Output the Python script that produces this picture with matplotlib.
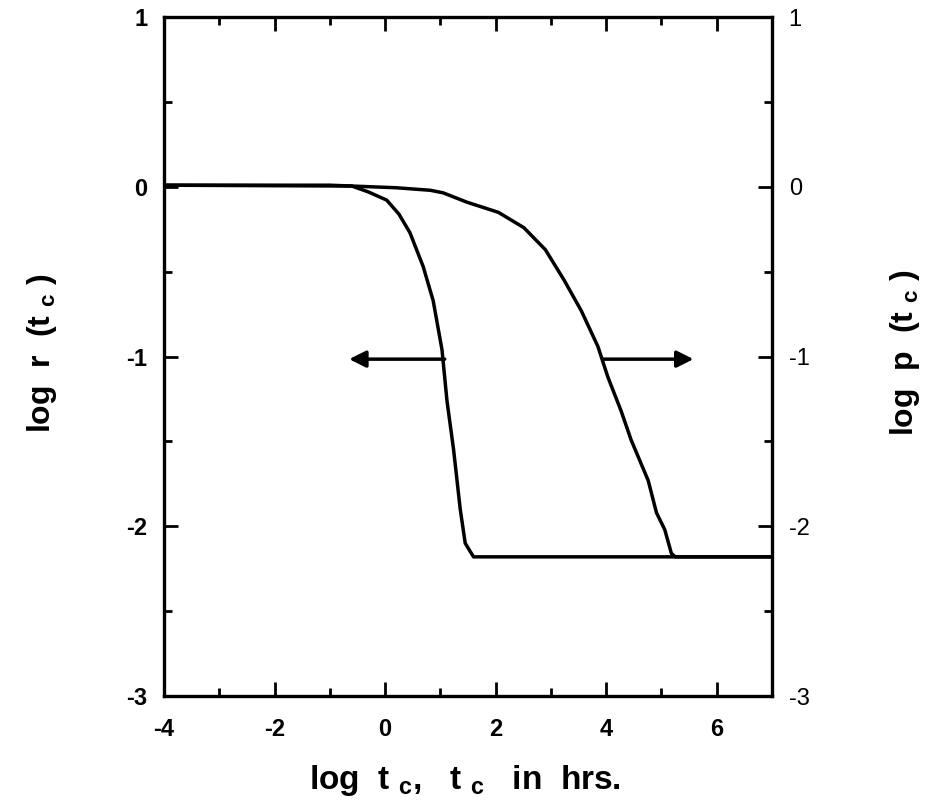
import matplotlib.pyplot as plt
from matplotlib.ticker import MultipleLocator

plt.rcParams['font.family'] = ['Liberation Sans', 'DejaVu Sans']
plt.rcParams['axes.unicode_minus'] = False
plt.rcParams['mathtext.fontset'] = 'custom'
plt.rcParams['mathtext.rm'] = 'Liberation Sans:bold'

# r(t_c): falls off first, read on the left axis
r_x = [-4, -1.0, -0.6, -0.3, 0.03, 0.25, 0.45, 0.69, 0.87, 1.03, 1.12, 1.24, 1.36, 1.45, 1.6, 7]
r_y = [0.01, 0.01, 0.005, -0.03, -0.078, -0.16, -0.27, -0.47, -0.67, -0.96, -1.26, -1.55, -1.90, -2.10, -2.18, -2.18]

# p(t_c): falls off later, read on the right axis
p_x = [-4, -0.6, 0.2, 0.82, 1.05, 1.48, 2.05, 2.51, 2.9, 3.24, 3.55, 3.85, 4.03, 4.27, 4.45, 4.76, 4.91, 5.06, 5.18, 5.25, 7]
p_y = [0.01, 0.005, -0.005, -0.02, -0.035, -0.09, -0.15, -0.24, -0.37, -0.55, -0.73, -0.94, -1.12, -1.32, -1.49, -1.73, -1.92, -2.02, -2.16, -2.18, -2.18]

x_ticks = [-4, -2, 0, 2, 4, 6]
y_ticks = [-3, -2, -1, 0, 1]

fig = plt.figure(figsize=(9.29, 8.11), dpi=100)
ax = fig.add_axes([0.1765, 0.1418, 0.6545, 0.837])

ax.plot(r_x, r_y, color='black', lw=2.5)
ax.plot(p_x, p_y, color='black', lw=2.5)

# arrows pointing each curve to its own axis
arrow_y = -1.015
head = '-|>,head_length=1.0,head_width=0.5'
ax.annotate('', xy=(-0.65, arrow_y), xytext=(1.08, arrow_y),
            arrowprops=dict(arrowstyle=head, color='black', lw=2.5,
                            shrinkA=0, shrinkB=0))
ax.annotate('', xy=(5.58, arrow_y), xytext=(3.95, arrow_y),
            arrowprops=dict(arrowstyle=head, color='black', lw=2.5,
                            shrinkA=0, shrinkB=0))

ax.set_xlim(-4, 7)
ax.set_ylim(-3, 1)
for s in ax.spines.values():
    s.set_linewidth(2.4)

ax.set_xticks(x_ticks)
ax.xaxis.set_minor_locator(MultipleLocator(1))
ax.set_yticks(y_ticks)
ax.yaxis.set_minor_locator(MultipleLocator(0.5))
ax.tick_params(which='both', direction='in', top=True, right=True, width=2,
               labelright=True, labelsize=17)
ax.tick_params(which='major', length=10)
ax.tick_params(which='minor', length=6)
ax.tick_params(axis='x', pad=16)
ax.tick_params(axis='y', pad=12)

for lab in ax.get_xticklabels():
    lab.set_fontweight('bold')
for t in ax.yaxis.get_major_ticks():
    t.label1.set_fontweight('bold')
    t.label2.set_fontweight('normal')

fig.text(0.50, 0.038, r'log  t $_\mathrm{c}$,   t $_\mathrm{c}$   in  hrs.',
         fontsize=24, fontweight='bold', ha='center', va='center')
fig.text(0.045, 0.565, r'log  r  (t $_\mathrm{c}$ )', fontsize=23,
         fontweight='bold', ha='center', va='center', rotation=90)
fig.text(0.974, 0.565, r'log  p  (t $_\mathrm{c}$ )', fontsize=23,
         fontweight='bold', ha='center', va='center', rotation=90)

fig.savefig('out.png', dpi=100)
